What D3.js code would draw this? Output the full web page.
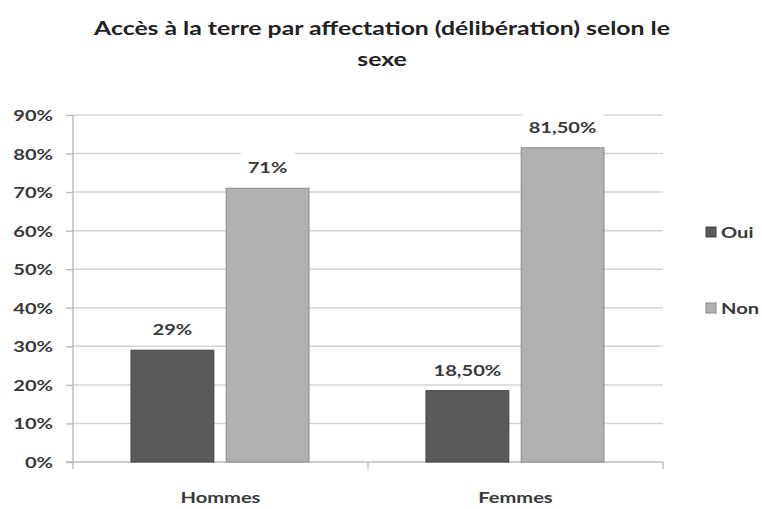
<!DOCTYPE html>
<html><head><meta charset="utf-8">
<script src="https://cdn.jsdelivr.net/npm/d3@7"></script>
<style>body{margin:0;background:#fff}svg{display:block}</style>
</head><body>
<svg id="c" width="762" height="509"></svg>
<script>
const categories = ["Hommes", "Femmes"];
const seriesNames = ["Oui", "Non"];
const oui = [29, 18.5];
const non = [71, 81.5];
const valueLabels = [["29%", "18,50%"], ["71%", "81,50%"]];
const yTicks = [0, 10, 20, 30, 40, 50, 60, 70, 80, 90];
const title = ["Accès à la terre par affectation (délibération) selon le", "sexe"];

const colors = ["#5a5a5a", "#b1b1b1"];
const strokes = ["#404040", "#8a8a8a"];
const font = "Lato, 'Open Sans', sans-serif";
const textCol = "#3a3a3a";
const SX = 1.34;

const svg = d3.select("#c");
const L = 73, R = 663, T = 115, B = 462;
const x = d3.scaleBand().domain(categories).range([L, R]).paddingInner(0).paddingOuter(0);
const y = d3.scaleLinear().domain([0, 90]).range([B, T]);
const inner = d3.scaleBand().domain(seriesNames).range([58, 236]).paddingInner(0.13);

function stretched(sel, px, py) {
  sel.attr("x", 0).attr("y", 0)
     .attr("transform", (d, i) => `translate(${px(d, i)},${py(d, i)}) scale(${SX},1)`);
  return sel;
}

// gridlines
svg.append("g").selectAll("line").data(yTicks.filter(d => d > 0)).join("line")
  .attr("x1", L).attr("x2", R).attr("y1", d => y(d)).attr("y2", d => y(d))
  .attr("stroke", "#d4d4d4").attr("stroke-width", 1.5);

// y axis
const yAxis = d3.axisLeft(y).tickValues(yTicks).tickFormat(d => d + "%").tickSize(7).tickPadding(14);
const gy = svg.append("g").attr("transform", `translate(${L},0)`).call(yAxis);
gy.select(".domain").attr("stroke", "#bdbdbd").attr("stroke-width", 1.5).attr("d", `M0,${T}V${B}`);
gy.selectAll(".tick line").attr("stroke", "#bdbdbd").attr("stroke-width", 1.5);
gy.selectAll(".tick text").attr("font-family", font).attr("font-weight", "bold")
  .attr("font-size", 15).attr("fill", textCol).attr("dy", null)
  .attr("x", 0).attr("transform", `translate(-20,5.5) scale(${SX},1)`);

// x axis
const gx = svg.append("g").attr("transform", `translate(0,${B})`);
gx.append("line").attr("x1", L - 7).attr("x2", R).attr("y1", 0).attr("y2", 0)
  .attr("stroke", "#bdbdbd").attr("stroke-width", 1.5);
const bounds = [L, ...categories.map(c => x(c) + x.bandwidth())];
gx.selectAll("line.t").data(bounds).join("line").attr("class", "t")
  .attr("x1", d => d).attr("x2", d => d).attr("y1", 0).attr("y2", 7)
  .attr("stroke", "#bdbdbd").attr("stroke-width", 1.5);
stretched(gx.selectAll("text").data(categories).join("text"),
  d => x(d) + x.bandwidth() / 2, () => 41)
  .attr("text-anchor", "middle").attr("font-family", font).attr("font-weight", "bold")
  .attr("font-size", 15).attr("fill", textCol).text(d => d);

// bars
const series = [oui, non];
series.forEach((vals, si) => {
  const g = svg.append("g");
  g.selectAll("rect").data(vals).join("rect")
    .attr("x", (d, i) => x(categories[i]) + inner(seriesNames[si]))
    .attr("y", d => y(d))
    .attr("width", inner.bandwidth())
    .attr("height", d => B - y(d))
    .attr("fill", colors[si]).attr("stroke", strokes[si]).attr("stroke-width", 1);
  const cx = (d, i) => x(categories[i]) + inner(seriesNames[si]) + inner.bandwidth() / 2;
  const by = d => y(d) - 15;
  const bg = g.append("g");
  const txt = stretched(g.append("g").selectAll("text").data(vals).join("text"), cx, by)
    .attr("text-anchor", "middle").attr("font-family", font).attr("font-weight", "bold")
    .attr("font-size", 15).attr("fill", textCol)
    .text((d, i) => valueLabels[si][i]);
  txt.each(function(d, i) {
    const w = this.getComputedTextLength() * SX + 14;
    bg.append("rect").attr("x", cx(d, i) - w / 2).attr("y", by(d) - 22)
      .attr("width", w).attr("height", 28).attr("fill", "#fff");
  });
});

// legend
const lg = svg.append("g");
seriesNames.forEach((s, i) => {
  const cy = 232 + i * 76;
  lg.append("rect").attr("x", 706).attr("y", cy - 5).attr("width", 10).attr("height", 10)
    .attr("fill", colors[i]).attr("stroke", strokes[i]);
  lg.append("text").attr("x", 0).attr("y", 0)
    .attr("transform", `translate(721,${cy + 5.5}) scale(${SX},1)`)
    .attr("font-family", font)
    .attr("font-weight", "bold").attr("font-size", 15).attr("fill", textCol).text(s);
});

// title
stretched(svg.append("g").selectAll("text").data(title).join("text"),
  () => 382, (d, i) => 35 + i * 31)
  .attr("text-anchor", "middle").attr("font-family", font).attr("font-weight", "bold")
  .attr("font-size", 18.5).attr("fill", "#222").text(d => d);
</script>
</body></html>
